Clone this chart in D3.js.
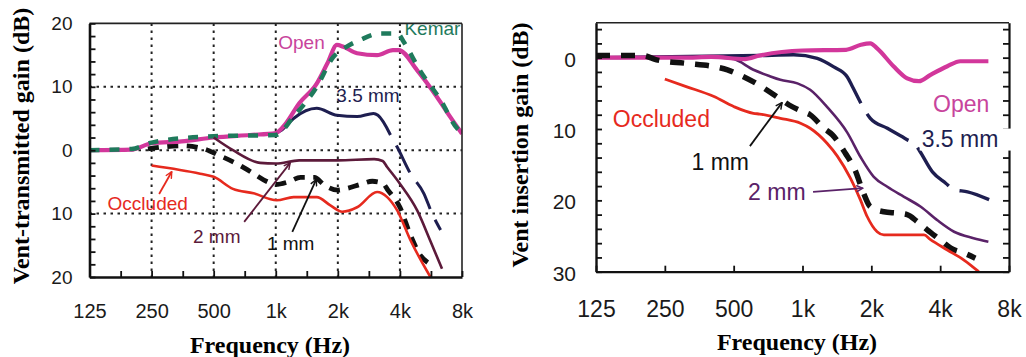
<!DOCTYPE html>
<html>
<head>
<meta charset="utf-8">
<script src="https://cdn.jsdelivr.net/npm/d3@7/dist/d3.min.js"></script>
<style>
  html, body { margin: 0; padding: 0; background: #fff; }
  svg { display: block; }
</style>
</head>
<body>
<svg id="chart" width="1026" height="357"></svg>
<script>
// ---------- Frequency axis (shared by both panels) ----------
const freqTicks = [125, 250, 500, 1000, 2000, 4000, 8000];
const freqTickLabels = ["125", "250", "500", "1k", "2k", "4k", "8k"];
const freqHalfOctaveTicks = [125, 177, 250, 354, 500, 707, 1000, 1414, 2000, 2828, 4000, 5657, 8000];

// ---------- Left panel: vent-transmitted gain (dB) ----------
const transYTicks = [20, 10, 0, -10, -20];
const transYTickLabels = ["20", "10", "0", "10", "20"];
const transGridFreqs = [250, 500, 1000, 2000, 4000];
const transGridGains = [10, 0, -10];

// [frequency Hz, gain dB]
const transOpen = [[125, 0], [200, 0.1], [250, 1.1], [350, 1.4], [500, 2.0], [750, 2.4], [1000, 2.7],
  [1100, 3.9], [1300, 7.4], [1580, 10.5], [1780, 13.7], [1980, 16.6], [2130, 16.3], [2480, 15.3],
  [3100, 15.0], [3700, 15.8], [3950, 15.8], [4850, 12.6], [6050, 8.4], [7000, 5.3], [8000, 2.6]];
const transKemar = [[125, 0], [200, 0.2], [250, 1.2], [500, 2.2], [1000, 2.4], [1220, 5.3], [1580, 10.0],
  [1900, 14.7], [2200, 16.3], [2570, 17.4], [3200, 18.4], [3900, 18.4], [4170, 17.1], [5000, 12.6],
  [6300, 7.9], [7600, 3.4], [8000, 2.8]];
const transVent35 = [[950, 2.4], [1070, 3.2], [1220, 5.0], [1580, 6.6], [1980, 5.5], [2480, 5.3],
  [2980, 5.8], [3130, 5.5], [3600, 2.4], [3880, 0.5], [4500, -3.7], [5220, -6.8], [5730, -10.0], [6300, -12.6]];
const transVent2 = [[500, 2.0], [620, 0], [840, -2.0], [1000, -2.1], [1300, -1.6], [2000, -1.6],
  [3000, -1.4], [3300, -1.7], [3460, -2.6], [4000, -5.3], [4850, -9.5], [5600, -14.2], [6400, -18.7]];
const transVent1 = [[240, 0.2], [350, 0.7], [450, 0.2], [530, -0.8], [670, -2.4], [800, -3.9], [900, -4.9],
  [1000, -5.4], [1150, -5.0], [1320, -4.3], [1540, -4.3], [1720, -5.5], [2000, -6.3], [2230, -6.0],
  [2570, -5.4], [2940, -4.9], [3300, -5.2], [3480, -6.2], [4000, -9.0], [4500, -13.4], [5030, -16.6], [5500, -17.8]];
const transOccluded = [[250, -2.4], [430, -3.7], [500, -4.2], [620, -6.1], [780, -6.8], [1010, -7.9],
  [1220, -7.4], [1580, -7.4], [1840, -8.7], [2100, -9.7], [2480, -9.0], [3100, -6.6], [3470, -7.4],
  [3880, -9.5], [4500, -14.2], [5620, -20.0]];

// ---------- Right panel: vent insertion gain (dB) ----------
const insYTicks = [0, 10, 20, 30];
const insYTickLabels = ["0", "10", "20", "30"];

const insOpen = [[125, 0], [300, 0], [400, -0.1], [560, 0.2], [650, -0.3], [1000, -1.0], [1550, -1.1],
  [1800, -1.8], [1980, -2.0], [2120, -1.3], [2500, 1.2], [2870, 2.9], [3230, 3.3], [3630, 2.4],
  [4300, 1.2], [4900, 0.5], [6500, 0.5]];
const insVent35 = [[125, 0], [650, -0.3], [915, -0.4], [1160, 0.1], [1370, 1.3], [1570, 2.7], [1650, 4.0],
  [1800, 6.4], [1980, 8.5], [2350, 9.9], [2870, 11.5], [3120, 12.2], [3230, 12.9], [3700, 16.0],
  [4230, 17.6], [4600, 18.5], [5270, 18.8], [6550, 19.9]];
const insVent2 = [[440, 0], [500, 0.2], [610, 1.7], [720, 2.6], [800, 3.1], [950, 3.6], [1080, 4.5], [1280, 6.9],
  [1570, 10.5], [1800, 14.0], [2050, 16.7], [2350, 18.1], [2780, 19.5], [3290, 20.9], [3890, 22.8],
  [4600, 24.4], [5600, 25.3], [6500, 25.8]];
const insVent1 = [[125, -0.3], [200, -0.3], [230, 0.3], [310, 0.8], [410, 1.25], [470, 1.7], [530, 2.4],
  [650, 3.9], [790, 5.7], [870, 6.6], [1010, 7.6], [1080, 8.0], [1240, 9.9], [1350, 10.8], [1540, 13.4],
  [1700, 15.8], [1850, 19.0], [1980, 20.9], [2270, 21.6], [2600, 21.8], [2870, 22.0], [3180, 23.0],
  [3500, 24.1], [4020, 25.6], [4450, 26.7], [5100, 27.4], [5700, 28.1]];
const insOccluded = [[250, 3.0], [310, 4.05], [410, 5.45], [500, 6.85], [610, 7.8], [650, 7.9], [800, 8.5],
  [980, 9.2], [1080, 9.9], [1280, 12.0], [1420, 13.8], [1620, 16.9], [1790, 19.9], [1920, 22.3],
  [2120, 24.4], [2270, 24.85], [3400, 24.85], [3630, 25.5], [4300, 26.95], [5100, 28.4], [5900, 30.0]];

// ---------- Drawing ----------
const SANS = "'Liberation Sans', Arial, Helvetica, sans-serif";
const SERIF = "'Liberation Serif', 'Times New Roman', serif";
const C = {
  open: "#d2379b", openText: "#c8449c", kemar: "#1f7a5c", navy: "#1e1e50",
  maroon: "#5c1a3a", purple: "#5a2268", red: "#e62a1e", black: "#111111"
};

const svg = d3.select("#chart");
const defs = svg.append("defs");

function arrowMarker(id, color) {
  defs.append("marker").attr("id", id)
    .attr("viewBox", "0 0 10 10").attr("refX", 9).attr("refY", 5)
    .attr("markerWidth", 8).attr("markerHeight", 8)
    .attr("markerUnits", "userSpaceOnUse").attr("orient", "auto")
    .append("path").attr("d", "M1,1 L9,5 L1,9")
    .attr("fill", "none").attr("stroke", color).attr("stroke-width", 1.8);
}
arrowMarker("arrow-red", C.red);
arrowMarker("arrow-maroon", C.maroon);
arrowMarker("arrow-black", C.black);
arrowMarker("arrow-purple", C.purple);

function makePanel(id, box, yDomain) {
  const x = d3.scaleLog().domain([125, 8000]).range([box.left, box.right]);
  const y = d3.scaleLinear().domain(yDomain).range([box.top, box.bottom]);
  defs.append("clipPath").attr("id", id + "-clip").append("rect")
    .attr("x", box.left).attr("y", box.top)
    .attr("width", box.right - box.left).attr("height", box.bottom - box.top);
  const g = svg.append("g").attr("id", id);
  const plot = g.append("g").attr("clip-path", `url(#${id}-clip)`);
  const line = d3.line().x(d => x(d[0])).y(d => y(d[1])).curve(d3.curveMonotoneX);
  return { x, y, g, plot, line, box };
}

function styleAxis(sel, domainWidth, tickWidth, fontSize) {
  sel.select(".domain").attr("stroke", "#111").attr("stroke-width", domainWidth);
  sel.selectAll(".tick line").attr("stroke", "#111").attr("stroke-width", tickWidth);
  sel.selectAll(".tick text").attr("fill", "#1a1a1a")
    .style("font-family", SANS).style("font-size", fontSize + "px");
}

function series(panel, data, color, width, dash, offset) {
  return panel.plot.append("path").datum(data)
    .attr("d", panel.line)
    .attr("fill", "none").attr("stroke", color).attr("stroke-width", width)
    .attr("stroke-linejoin", "round")
    .attr("stroke-dasharray", dash || null)
    .attr("stroke-dashoffset", offset || null);
}

function label(parent, panel, f, db, text, color, size) {
  return parent.append("text")
    .attr("x", panel.x(f)).attr("y", panel.y(db)).attr("dy", "0.36em")
    .attr("fill", color).style("font-family", SANS).style("font-size", size + "px")
    .text(text);
}

function pointer(panel, from, to, color, marker, width) {
  panel.g.append("line")
    .attr("x1", panel.x(from[0])).attr("y1", panel.y(from[1]))
    .attr("x2", panel.x(to[0])).attr("y2", panel.y(to[1]))
    .attr("stroke", color).attr("stroke-width", width || 1.8)
    .attr("marker-end", `url(#${marker})`);
}

// ===== Left panel =====
const L = makePanel("transmitted", { left: 89.5, right: 462, top: 23.4, bottom: 277 }, [20, -20]);

// dotted grid
L.g.insert("g", ":first-child").selectAll("line.v").data(transGridFreqs).join("line")
  .attr("x1", d => L.x(d)).attr("x2", d => L.x(d))
  .attr("y1", L.box.top).attr("y2", L.box.bottom)
  .attr("stroke", "#222").attr("stroke-width", 2).attr("stroke-dasharray", "2.5,4.5");
L.g.insert("g", ":first-child").selectAll("line.h").data(transGridGains).join("line")
  .attr("y1", d => L.y(d)).attr("y2", d => L.y(d))
  .attr("x1", L.box.left).attr("x2", L.box.right)
  .attr("stroke", "#222").attr("stroke-width", 2).attr("stroke-dasharray", "2.5,4.5");

// frame (top, right)
L.g.append("line").attr("x1", L.box.left).attr("x2", L.box.right)
  .attr("y1", L.box.top).attr("y2", L.box.top).attr("stroke", "#222").attr("stroke-width", 1.6);
L.g.append("line").attr("x1", L.box.right).attr("x2", L.box.right)
  .attr("y1", L.box.top).attr("y2", L.box.bottom).attr("stroke", "#222").attr("stroke-width", 1.6);

const Lyaxis = L.g.append("g").attr("transform", `translate(${L.box.left},0)`)
  .call(d3.axisLeft(L.y).tickValues(d3.range(-20, 21, 2)).tickSizeInner(-6).tickSizeOuter(0)
    .tickPadding(17)
    .tickFormat(v => { const i = transYTicks.indexOf(v); return i >= 0 ? transYTickLabels[i] : ""; }));
styleAxis(Lyaxis, 2.6, 1.8, 19);

const Lxaxis = L.g.append("g").attr("transform", `translate(0,${L.box.bottom})`)
  .call(d3.axisBottom(L.x).tickValues(freqHalfOctaveTicks).tickSizeInner(-6).tickSizeOuter(0)
    .tickPadding(27)
    .tickFormat(v => { const i = freqTicks.indexOf(v); return i >= 0 ? freqTickLabels[i] : ""; }));
styleAxis(Lxaxis, 2.4, 1.8, 20);

// curves
series(L, transVent35.filter(d => d[0] <= 3600), C.navy, 3);
series(L, transVent35.filter(d => d[0] >= 3600), C.navy, 3, "30,12", 30);
series(L, transVent1, C.black, 4.8, "11,8.5");
series(L, transOpen, C.open, 4.2);
series(L, transKemar, C.kemar, 4.5, "10,10");
series(L, transVent2, C.maroon, 2.6);
series(L, transOccluded, C.red, 2.6);

// labels
label(L.plot, L, 1028, 17.1, "Open", C.openText, 19);
label(L.plot, L, 4207, 19.3, "Kemar", C.kemar, 19);
label(L.plot, L, 1967, 8.7, "3.5 mm", C.navy, 19);
label(L.plot, L, 153, -8.3, "Occluded", C.red, 19);
label(L.plot, L, 397, -13.6, "2 mm", C.maroon, 19);
label(L.plot, L, 906, -14.7, "1 mm", C.black, 19);
pointer(L, [272, -6.9], [313, -3.4], C.red, "arrow-red");
pointer(L, [703, -11.3], [1175, -2.0], C.maroon, "arrow-maroon");
pointer(L, [1203, -12.9], [1573, -4.6], C.black, "arrow-black");

// axis titles
svg.append("text").attr("transform", "translate(28.5,146) rotate(-90)")
  .attr("text-anchor", "middle").style("font-family", SERIF).style("font-weight", "bold")
  .style("font-size", "24px").attr("fill", "#000").text("Vent-transmitted gain (dB)");
svg.append("text").attr("x", 270).attr("y", 353)
  .attr("text-anchor", "middle").style("font-family", SERIF).style("font-weight", "bold")
  .style("font-size", "24px").attr("fill", "#000").text("Frequency (Hz)");

// ===== Right panel =====
const R = makePanel("insertion", { left: 596, right: 1009, top: 22.7, bottom: 271.7 }, [-4.9, 30]);

R.g.append("line").attr("x1", R.box.left).attr("x2", R.box.right)
  .attr("y1", R.box.top).attr("y2", R.box.top).attr("stroke", "#222").attr("stroke-width", 1.4);

const Ryaxis = R.g.append("g").attr("transform", `translate(${R.box.left},0)`)
  .call(d3.axisLeft(R.y).tickValues(d3.range(-4, 31, 2)).tickSizeInner(-6).tickSizeOuter(0)
    .tickPadding(20)
    .tickFormat(v => { const i = insYTicks.indexOf(v); return i >= 0 ? insYTickLabels[i] : ""; }));
styleAxis(Ryaxis, 2.4, 1.8, 21);
Ryaxis.selectAll(".tick text").attr("dy", "0.4em");

const RyaxisRight = R.g.append("g").attr("transform", `translate(${R.box.right},0)`)
  .call(d3.axisRight(R.y).tickValues(d3.range(-4, 31, 2)).tickSizeInner(-6).tickSizeOuter(0)
    .tickFormat(() => ""));
styleAxis(RyaxisRight, 2.2, 1.8, 21);

const Rxaxis = R.g.append("g").attr("transform", `translate(0,${R.box.bottom})`)
  .call(d3.axisBottom(R.x).tickValues(freqTicks).tickSizeInner(-6).tickSizeOuter(0)
    .tickPadding(28.5)
    .tickFormat((v, i) => freqTickLabels[i]));
styleAxis(Rxaxis, 2.2, 1.8, 23);

// curves
series(R, insVent35.filter(d => d[0] <= 1800), C.navy, 3.4);
series(R, insVent35.filter(d => d[0] >= 1800), C.navy, 3.4, "50,12", 50);
series(R, insVent2, C.purple, 2.6);
series(R, insOpen, C.open, 4.2);
series(R, insVent1, C.black, 5.5, "14,11");
series(R, insOccluded, C.red, 2.8);

// "3.5 mm" sits on a white patch that interrupts the right-hand axis
const mask = R.g.append("rect").attr("fill", "#fff");
const t35 = label(R.g, R, 3321, 11.3, "3.5 mm", C.navy, 23);
const bb = t35.node().getBBox();
mask.attr("x", bb.x - 2).attr("y", bb.y + 3).attr("width", R.box.right + 4 - bb.x)
  .attr("height", bb.height - 4);

label(R.g, R, 3722, 6.4, "Open", C.openText, 23);
label(R.g, R, 148, 8.5, "Occluded", C.red, 23);
label(R.g, R, 327, 14.6, "1 mm", C.black, 23);
label(R.g, R, 578, 18.8, "2 mm", C.purple, 23);
pointer(R, [589, 12.4], [814, 6.3], C.black, "arrow-black");
pointer(R, [1112, 18.8], [1836, 18.3], C.purple, "arrow-purple");

svg.append("text").attr("transform", "translate(528,145) rotate(-90)")
  .attr("text-anchor", "middle").style("font-family", SERIF).style("font-weight", "bold")
  .style("font-size", "24px").attr("fill", "#000").text("Vent insertion gain (dB)");
svg.append("text").attr("x", 797).attr("y", 350)
  .attr("text-anchor", "middle").style("font-family", SERIF).style("font-weight", "bold")
  .style("font-size", "24px").attr("fill", "#000").text("Frequency (Hz)");
</script>
</body>
</html>
